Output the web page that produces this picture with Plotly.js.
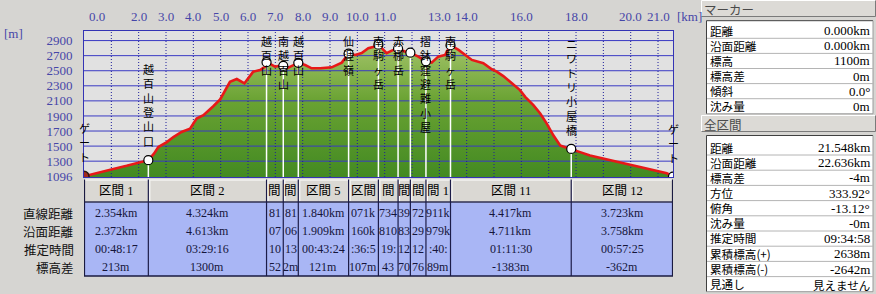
<!DOCTYPE html>
<html><head><meta charset="utf-8">
<script src="https://cdn.plot.ly/plotly-3.0.1.min.js"></script>
<style>html,body{margin:0;padding:0;background:#d6d5d2;}#chart{width:876px;height:294px;}</style>
</head><body><div id="chart"></div>
<script>
// ---------- data ----------
const profileKm = [0,0.30,1.00,1.56,2.00,2.354,2.56,2.72,3.03,3.27,3.57,3.88,4.12,4.37,4.73,4.98,
  5.34,5.59,5.87,6.19,6.44,6.62,6.678,6.99,7.23,7.29,7.42,7.66,7.84,8.09,8.33,8.64,9.06,9.43,9.68,
  9.92,10.16,10.40,10.65,10.77,11.07,11.26,11.49,11.75,11.94,12.23,12.48,12.51,12.72,12.96,13.21,13.408,
  13.70,13.94,14.19,14.61,14.92,15.10,15.34,15.59,15.95,16.14,16.44,16.69,16.93,17.17,17.42,17.66,17.825,
  18.15,18.51,19.00,19.49,19.98,20.46,20.95,21.32,21.548];
const profileElev = [1100,1130,1190,1238,1280,1313,1399,1487,1553,1620,1687,1732,1865,1909,2029,2119,
  2353,2390,2332,2487,2509,2553,2613,2553,2572,2563,2532,2576,2605,2576,2532,2532,2545,2607,2726,
  2709,2735,2799,2820,2845,2732,2767,2795,2753,2740,2687,2625,2625,2607,2687,2709,2838,
  2776,2709,2643,2599,2519,2487,2429,2353,2243,2153,2043,1932,1799,1643,1509,1479,1462,
  1420,1376,1332,1287,1252,1212,1176,1140,1096];

const waypointKm   = [0,2.354,6.678,7.29,7.84,9.68,10.77,11.49,11.94,12.51,13.408,17.825,21.548];
const waypointElev = [1100,1313,2613,2563,2605,2726,2845,2795,2740,2625,2838,1462,1096];
const waypointNames = ["ゲート","越百山登山口","越百山","南越百山","越百山","仙涯嶺","南駒ヶ岳","赤梛岳","","摺鉢窪避難小屋","南駒ヶ岳","ニワトリ小屋橋","ゲート"];

// section table (narrow columns show only the visible part of the text, as in the reference)
const sectionNames = ["区間 1","区間 2","間","間","区間 5","区間","間","間","間","間 1","区間 11","区間 12"];
const rowLabels = ["直線距離","沿面距離","推定時間","標高差"];
const straightDist = ["2.354km","4.324km","81","81","1.840km","071k","734","39","72","911k","4.417km","3.723km"];
const surfaceDist  = ["2.372km","4.613km","07","06","1.909km","160k","810","83","29","979k","4.711km","3.758km"];
const estTime      = ["00:48:17","03:29:16","10","13","00:43:24",":36:5","19:","12","12",":40:","01:11:30","00:57:25"];
const elevDiff     = ["213m","1300m","52","2m","121m","107m","43","70","76","89m","-1383m","-362m"];

const yTickVals = [1096,1300,1500,1700,1900,2100,2300,2500,2700,2900];
const xTickVals = [0,2,3,4,5,6,7,8,9,10,11,13,14,16,18,20,21];
const xGridKm = [1,2,3,4,5,6,7,8,9,10,11,12,13,14,15,16,17,18,19,20,21];

const markerLabels = ["距離","沿面距離","標高","標高差","傾斜","沈み量"];
const markerValues = ["0.000km","0.000km","1100m","0m","0.0°","0m"];
const totalLabels = ["距離","沿面距離","標高差","方位","俯角","沈み量","推定時間","累積標高(+)","累積標高(-)","見通し"];
const totalValues = ["21.548km","22.636km","-4m","333.92°","-13.12°","-0m","09:34:58","2638m","-2642m","見えません"];

// ---------- geometry ----------
const W=876,H=294,ML=84,MR=203,MT=31,MB=117;
const PW=W-ML-MR, PH=H-MT-MB;
const XMAX = waypointKm[waypointKm.length-1];
const YMIN=1090, YMAX=3027;
const pyE = e => MT + (YMAX-e)/(YMAX-YMIN)*PH;
const pX = x => (x-ML)/PW;
const pY = y => (MT+PH-y)/PH;

const NUM = 'Liberation Serif, Noto Sans CJK JP, serif';
const JP = 'Noto Sans CJK JP, sans-serif';
const BLUE = '#4646a8';

// ---------- traces ----------
const traces = [];
traces.push({x:profileKm, y:profileElev, mode:'lines', fill:'tozeroy', line:{width:0, color:'rgba(0,0,0,0)'},
  fillgradient:{type:'vertical', start:1096, stop:2900, colorscale:[[0,'#438a22'],[0.55,'#69a232'],[1,'#a6c56c']]},
  hoverinfo:'skip', showlegend:false});
let hx=[],hy=[];
yTickVals.slice(1).forEach(v=>{hx.push(0,XMAX,null);hy.push(v,v,null);});
traces.push({x:hx,y:hy,mode:'lines',line:{color:'#3a3ac4',width:1},hoverinfo:'skip',showlegend:false});
let vx=[],vy=[];
xGridKm.forEach(k=>{vx.push(k,k,null);vy.push(YMIN,YMAX,null);});
traces.push({x:vx,y:vy,mode:'lines',line:{color:'#1e1e9a',width:1,dash:'1px,2px'},hoverinfo:'skip',showlegend:false});
let wx=[],wy=[];
for(let i=1;i<waypointKm.length-1;i++){wx.push(waypointKm[i],waypointKm[i],null);wy.push(waypointElev[i],YMIN,null);}
traces.push({x:wx,y:wy,mode:'lines',line:{color:'#ffffff',width:1.5},hoverinfo:'skip',showlegend:false});
traces.push({x:profileKm,y:profileElev,mode:'lines',line:{color:'#e81818',width:2.6},hoverinfo:'skip',showlegend:false});
traces.push({x:waypointKm.slice(1),y:waypointElev.slice(1),mode:'markers',
  marker:{symbol:'circle',size:9,color:'#ffffff',line:{color:'#000000',width:1.2}},hoverinfo:'skip',showlegend:false});
traces.push({x:[waypointKm[0]],y:[waypointElev[0]],mode:'markers',
  marker:{symbol:'circle',size:10,color:'#a22a1e',line:{color:'#2a1a10',width:1.5}},hoverinfo:'skip',showlegend:false});

// ---------- annotations & shapes ----------
const annotations = [];
const shapes = [];
function rectPx(x0,y0,x1,y1,fill,lc){shapes.push({type:'rect',xref:'paper',yref:'paper',x0:pX(x0),x1:pX(x1),y0:pY(y1),y1:pY(y0),fillcolor:fill,line:{width:lc?1:0,color:lc||'rgba(0,0,0,0)'}});}
function linePx(x0,y0,x1,y1,c,w){shapes.push({type:'line',xref:'paper',yref:'paper',x0:pX(x0),x1:pX(x1),y0:pY(y0),y1:pY(y1),line:{color:c,width:w||1}});}
function textPx(x,y,text,anchor,font,align){annotations.push({xref:'paper',yref:'paper',x:pX(x),y:pY(y),text:text,showarrow:false,xanchor:anchor,yanchor:'middle',align:align||'center',font:font,borderpad:0});}
function bevel(x0,y0,x1,y1){rectPx(x0,y0,x1,y1,'#dcdad6');linePx(x0,y0,x1,y0,'#ffffff');linePx(x0,y0,x0,y1,'#ffffff');linePx(x0,y1,x1,y1,'#7a7a7a');linePx(x1,y0,x1,y1,'#7a7a7a');}

// top km labels
xTickVals.forEach(k=>{
  annotations.push({xref:'x',yref:'paper',x:k,y:pY(16.7),text:k.toFixed(1),showarrow:false,
    xanchor:k===0?'left':'center',xshift:k===0?3:0,yanchor:'middle',font:{family:NUM,size:13,color:BLUE}});
});
textPx(676,16.7,'[km]','left',{family:NUM,size:13,color:BLUE});
textPx(3,33,'[m]','left',{family:NUM,size:13,color:BLUE});

// vertical waypoint labels: one text block per label, one character per line
const LFS=11, CH=LFS*1.3;
waypointNames.forEach((name,i)=>{
  if(!name) return;
  const chars=Array.from(name);
  const my=pyE(waypointElev[i]);
  let top=my-14-chars.length*CH;
  if(top<MT+0.5) top=MT+0.5;
  annotations.push({xref:'x',yref:'paper',x:waypointKm[i],y:pY(top),text:chars.join('<br>'),showarrow:false,
    xanchor:'center',yanchor:'top',align:'center',borderpad:0,font:{family:JP,size:LFS,color:'#000000'}});
});

// section table
const TH0=179.5, TH1=202, TD1=276;
const rowY=[213,231,249,267];
shapes.push({type:'rect',xref:'x',yref:'paper',x0:0,x1:XMAX,y0:pY(TH1),y1:pY(TH0),fillcolor:'#dad8d3',line:{width:0}});
shapes.push({type:'rect',xref:'x',yref:'paper',x0:0,x1:XMAX,y0:pY(TD1),y1:pY(TH1),fillcolor:'#a9b6f5',line:{width:0}});
shapes.push({type:'line',xref:'x',yref:'paper',x0:0,x1:XMAX,y0:pY(TH0+0.5),y1:pY(TH0+0.5),line:{color:'#ffffff',width:1}});
shapes.push({type:'line',xref:'x',yref:'paper',x0:0,x1:XMAX,y0:pY(TH1),y1:pY(TH1),line:{color:'#303050',width:1.5}});
shapes.push({type:'line',xref:'x',yref:'paper',x0:0,x1:XMAX,y0:pY(TD1),y1:pY(TD1),line:{color:'#1a1a40',width:1.5}});
[0,XMAX].forEach((b,n)=>{
  shapes.push({type:'line',xref:'x',yref:'paper',xsizemode:'pixel',xanchor:b,x0:n?-0.5:0.5,x1:n?-0.5:0.5,y0:pY(TD1),y1:pY(TH0),line:{color:'#1a1a40',width:1.2}});
});
for(let i=1;i<waypointKm.length-1;i++){
  const b=waypointKm[i];
  shapes.push({type:'line',xref:'x',yref:'paper',x0:b,x1:b,y0:pY(TD1),y1:pY(TH0),line:{color:'#1c1c48',width:1.2}});
  shapes.push({type:'line',xref:'x',yref:'paper',xsizemode:'pixel',xanchor:b,x0:1.5,x1:1.5,y0:pY(TH1-1),y1:pY(TH0+1),line:{color:'#ffffff',width:1}});
}
const tableRows=[straightDist,surfaceDist,estTime,elevDiff];
for(let i=0;i<sectionNames.length;i++){
  const c=(waypointKm[i]+waypointKm[i+1])/2;
  annotations.push({xref:'x',yref:'paper',x:c,y:pY(191),text:sectionNames[i],showarrow:false,
    xanchor:'center',yanchor:'middle',borderpad:0,font:{family:NUM,size:12.5,color:'#000000'}});
  tableRows.forEach((row,r)=>{
    annotations.push({xref:'x',yref:'paper',x:c,y:pY(rowY[r]),text:row[i],showarrow:false,
      xanchor:'center',yanchor:'middle',borderpad:0,font:{family:NUM,size:12,color:'#15153a'}});
  });
}
rowLabels.forEach((t,r)=>textPx(74.5,rowY[r],t,'right',{family:JP,size:12.5,color:'#101010'}));

// right panel: marker
bevel(701.5,0.5,875.5,16.5);
textPx(703,9,'マーカー','left',{family:JP,size:12.5,color:'#4a4a4a'});
rectPx(706.5,20.7,873,113.8,'#ffffff');
linePx(706.5,20.7,873,20.7,'#404040');linePx(706.5,20.7,706.5,113.8,'#404040');
linePx(873,20.7,873,113.8,'#9a9a9a');linePx(706.5,113.8,873,113.8,'#9a9a9a');
const mSep=[38.3,53.4,68.5,83.6,98.7,113.8];
mSep.slice(0,5).forEach(y=>linePx(707,y,873,y,'#b4b4b4'));
const mC0=mSep[0]-7.55, mC1=mSep[5]-7.55;
textPx(709,(mC0+mC1)/2,markerLabels.join('<br>'),'left',{family:JP,size:11.6,color:'#000000'},'left');
markerValues.forEach((v,i)=>{
  textPx(871,mSep[i]-7.55,v,'right',{family:NUM,size:13,color:'#000000'});
});
// right panel: total
bevel(701.5,115.5,875.5,131.5);
textPx(703,124,'全区間','left',{family:JP,size:12.5,color:'#4a4a4a'});
rectPx(706.5,135.5,873,291.7,'#ffffff');
linePx(706.5,135.5,873,135.5,'#404040');linePx(706.5,135.5,706.5,291.7,'#404040');
linePx(873,135.5,873,291.7,'#9a9a9a');linePx(706.5,291.7,873,291.7,'#9a9a9a');
const tSep=[155,170.2,185.4,200.6,215.8,231,246.2,261.4,276.6,291.7];
tSep.slice(0,9).forEach(y=>linePx(707,y,873,y,'#b4b4b4'));
const tC0=tSep[0]-7.6, tC1=tSep[9]-7.6;
textPx(709,(tC0+tC1)/2,totalLabels.join('<br>'),'left',{family:JP,size:11.6,color:'#000000'},'left');
totalValues.forEach((v,i)=>{
  const isJ=/[\u3040-\u30ff\u4e00-\u9fff]/.test(v);
  textPx(871,tSep[i]-7.6+(isJ?0.6:0),v,'right',{family:isJ?JP:NUM,size:isJ?11.5:13,color:'#000000'});
});

// ---------- layout ----------
const layout = {
  width:W,height:H,margin:{l:ML,r:MR,t:MT,b:MB,pad:0},
  paper_bgcolor:'#d6d5d2',plot_bgcolor:'#e1e1e1',
  showlegend:false,
  xaxis:{range:[0,XMAX],showgrid:false,zeroline:false,showticklabels:false,ticks:'',
    showline:true,mirror:true,linecolor:'#3434b4',linewidth:1,fixedrange:true},
  yaxis:{range:[YMIN,YMAX],showgrid:false,zeroline:false,tickmode:'array',tickvals:yTickVals,
    ticktext:yTickVals.map(String),ticks:'outside',ticklen:8,tickcolor:'rgba(0,0,0,0)',
    tickfont:{family:NUM,size:13,color:BLUE},showline:true,mirror:true,linecolor:'#3434b4',linewidth:1,fixedrange:true},
  shapes:shapes,annotations:annotations
};
Plotly.newPlot('chart',traces,layout,{staticPlot:true,displayModeBar:false});
</script></body></html>
